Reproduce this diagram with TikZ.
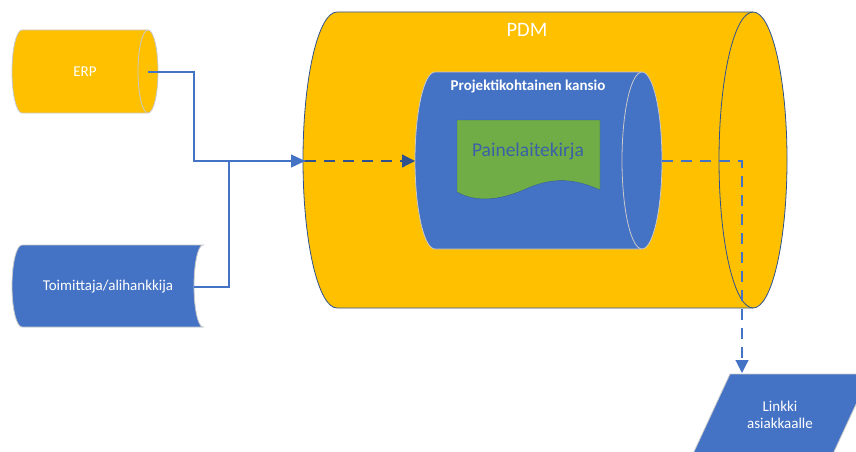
\documentclass[tikz,border=0pt]{standalone}
\usepackage{fontspec}
\setmainfont{Carlito}
\usepackage{tikz}
\usetikzlibrary{arrows.meta,positioning,calc}
\definecolor{DataGold}{HTML}{FFC000}
\definecolor{DataBlue}{HTML}{4472C4}
\definecolor{DeepBlue}{HTML}{2F528F}
\definecolor{DocGreen}{HTML}{70AD47}
\definecolor{EdgeGray}{HTML}{C9C9C9}

\begin{document}
\begin{tikzpicture}[x=1pt, y=-1pt, every node/.style={text=white, align=center, font=\fontsize{15}{17}\selectfont},
  conn/.style={DataBlue, line width=1.2pt},
  flow/.style={line width=1.2pt, dash pattern=on 11pt off 8pt}]
  \useasboundingbox (0,0) rectangle (856,452);
  \clip (0,0) rectangle (856,452);
  % PDM cylinder
  \draw[DeepBlue, fill=DataGold, line width=0.8pt] (337,12) -- (753,12) arc[start angle=-90, end angle=90, x radius=34, y radius=148] -- (337,308) arc[start angle=90, end angle=270, x radius=34, y radius=148] -- cycle;
  \draw[DeepBlue, line width=0.8pt] (753,12) arc[start angle=-90, end angle=-270, x radius=34, y radius=148];
  \node[font=\fontsize{20.5}{24}\selectfont] (pdm) at (527,30) {PDM};
  % project folder
  \draw[EdgeGray, fill=DataBlue, line width=0.8pt] (435,72) -- (642,72) arc[start angle=-90, end angle=90, x radius=20, y radius=88.5] -- (435,249) arc[start angle=90, end angle=270, x radius=20, y radius=88.5] -- cycle;
  \draw[EdgeGray, line width=0.8pt] (642,72) arc[start angle=-90, end angle=-270, x radius=20, y radius=88.5];
  \node[font=\fontsize{15}{18}\selectfont\bfseries] (kansio) at (528,86) {Projektikohtainen kansio};
  % document
  \draw[DataBlue!80!black, fill=DocGreen, line width=0.4pt] (457,120) -- (600,120) -- (600,190) .. controls (578,180) and (556,176) .. (528,188) .. controls (504,199) and (478,204) .. (457,192) -- cycle;
  \node[text=DataBlue!85!black, font=\fontsize{19.5}{23}\selectfont] (kirja) at (528,151) {Painelaitekirja};
  % ERP
  \draw[EdgeGray, fill=DataGold, line width=0.8pt] (22,30) -- (148,30) arc[start angle=-90, end angle=90, x radius=10, y radius=41.5] -- (22,113) arc[start angle=90, end angle=270, x radius=10, y radius=41.5] -- cycle;
  \draw[EdgeGray, line width=0.8pt] (148,30) arc[start angle=-90, end angle=-270, x radius=10, y radius=41.5];
  \node (erp) at (85,72) {ERP};
  % supplier
  \draw[EdgeGray, fill=DataBlue, line width=0.8pt] (22,245) -- (203,245) arc[start angle=-90, end angle=-270, x radius=9, y radius=41] -- (22,327) arc[start angle=90, end angle=270, x radius=10, y radius=41] -- cycle;
  \node (toim) at (108,287) {Toimittaja/alihankkija};
  % link
  \draw[EdgeGray, fill=DataBlue, line width=0.8pt] (730,374) -- (870,374) -- (832,456) -- (692,456) -- cycle;
  \node (linkki) at (780,415) {Linkki\\asiakkaalle};
  % connection points
  \coordinate (erpout) at (148,72);
  \coordinate (toimout) at (194,287);
  \coordinate (bend) at (194,161);
  \coordinate (joint) at (229,161);
  \coordinate (pdmin) at (305,161);
  \coordinate (kansioin) at (415,161);
  \coordinate (kansioout) at (662,161);
  \coordinate (linkin) at (742,373);
  \draw[conn] (erpout) -| (bend) -- (pdmin);
  \draw[conn, -{Triangle[length=14pt, width=13pt]}] (joint) -- (pdmin);
  \draw[conn] (toimout) -| (joint);
  \draw[flow, DeepBlue, -{Triangle[length=13pt, width=13pt]}] (pdmin) -- (kansioin);
  \draw[flow, DataBlue, -{Triangle[length=13pt, width=13pt]}] (kansioout) -| (linkin);
\end{tikzpicture}
\end{document}
